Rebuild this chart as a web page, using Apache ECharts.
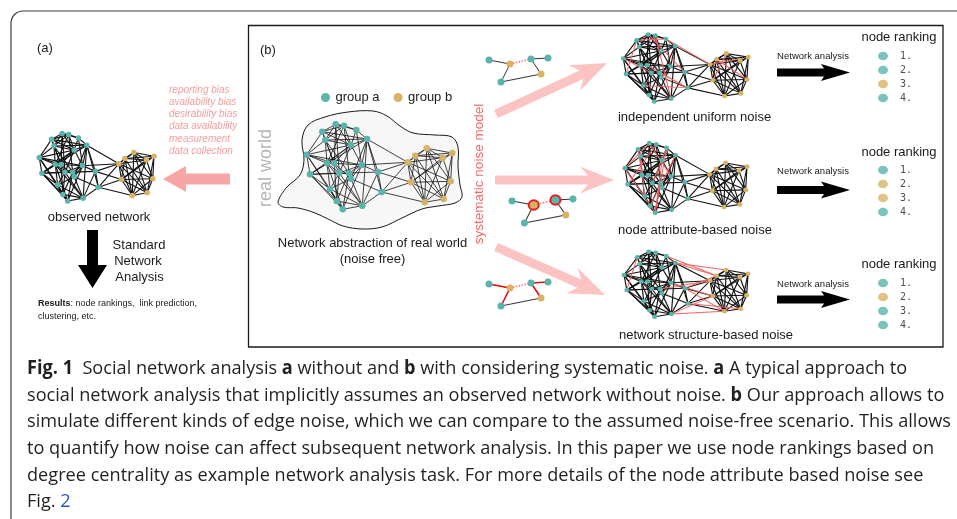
<!DOCTYPE html>
<html>
<head>
<meta charset="utf-8">
<script src="https://cdn.jsdelivr.net/npm/echarts@6/dist/echarts.min.js"></script>
<style>
  html, body { margin: 0; padding: 0; background: #fff; }
  #fig { width: 957px; height: 519px; }
</style>
</head>
<body>
<div id="fig"></div>
<script>
const TEAL = '#5ab4ac';
const GOLD = '#d8b365';
const SANS = 'Liberation Sans';

// ---- network layout (layout units); group a = indices 0..20, group b = 21..29
const groupANodes = [
  [22.3, 11.7], [35.7, 4.3], [44, 5.7], [56.3, 10], [25.3, 20], [67, 19], [51, 25],
  [6.7, 34.7], [27, 43.3], [34.3, 43.3], [61.7, 45], [10, 54.3], [39.3, 53], [49, 53],
  [51, 58.7], [78, 52], [30, 69], [36.7, 81], [81.7, 72], [42.7, 89.3], [62.3, 85.7]
];
const groupBNodes = [
  [107.7, 42.3], [115.3, 35.7], [126.7, 28.3], [142.7, 37.7], [152.3, 33],
  [111, 62.3], [150.7, 61.3], [124.7, 82.3], [143.7, 79]
];
const networkEdges = [
  [0,1],[0,2],[0,4],[0,6],[0,7],[0,9],[0,5],
  [1,2],[1,4],[1,6],[1,9],[1,3],[1,12],
  [2,3],[2,6],[2,4],[2,8],[2,13],
  [3,5],[3,6],[3,10],
  [4,6],[4,7],[4,8],[4,9],[4,13],[4,5],
  [5,6],[5,10],[5,15],[5,18],[5,20],[5,11],[5,14],[5,21],
  [6,8],[6,9],[6,10],[6,12],[6,11],[6,7],
  [7,8],[7,11],[7,9],[7,16],[7,10],[7,17],
  [8,11],[8,12],[8,9],[8,16],[8,19],[8,20],
  [9,12],[9,14],[9,17],[9,10],
  [10,12],[10,13],[10,15],[10,14],[10,19],[10,21],
  [11,12],[11,16],[11,17],[11,19],[11,13],
  [12,13],[12,16],[12,17],[12,20],
  [13,14],[13,17],[13,15],[13,19],
  [14,20],[14,16],[14,18],
  [15,18],[15,21],[15,26],[15,20],
  [16,17],[16,19],[16,20],
  [17,19],[17,20],
  [18,20],[18,26],[18,21],[18,28],
  [19,20],
  [21,22],[21,23],[21,24],[21,26],[21,27],[21,28],[21,29],
  [22,23],[22,24],[22,25],[22,26],[22,28],[22,29],
  [23,24],[23,25],[23,27],[23,28],[23,29],
  [24,25],[24,26],[24,28],[24,27],
  [25,27],[25,29],[25,26],
  [26,28],[26,29],[26,27],
  [27,28],[27,29],
  [28,29]
];
// edges added by each noise model
const uniformNoiseEdges   = [[0,3],[0,11],[1,15],[3,21],[2,20],[7,12],[9,18],[13,18],[16,18],[22,27],[21,25],[23,26]];
const attributeNoiseEdges = [[0,8],[1,7],[3,12],[3,19],[5,17],[6,19],[2,11],[7,19],[4,16],[1,10]];
const structureNoiseEdges = [[5,22],[5,23],[3,22],[15,22],[15,28],[10,26],[13,21],[20,26],[20,28],[18,29],[0,11]];

// small six-node example for each noise model: [x, y, group]
const motifNodes = [[0,2,0],[21,6,1],[42,1,0],[59,0,0],[52,16,1],[12,24,0]];
const motifEdges = [[0,1],[1,2],[2,3],[2,4],[1,5],[5,4]];
const motifUniformKinds   = ['k','dot','k','k','k','k'];
const motifAttributeKinds = ['k','dot','k','k','k','k'];
const motifStructureKinds = ['red','dot','red','red','red','k'];
const motifAttributeRinged = [1, 2];

const groupNames = ['group a', 'group b'];
const biasSources = ['reporting bias','availability bias','desirability bias','data availability','measurement','data collection'];
const rankNames = ['1.', '2.', '3.', '4.'];
const rankingUniform   = [0, 0, 1, 0];
const rankingAttribute = [0, 1, 1, 0];
const rankingStructure = [0, 1, 0, 0];

const captionLines = [
  '{fb|Fig. 1}  Social network analysis {b|a} without and {b|b} with considering systematic noise. {b|a} A typical approach to',
  'social network analysis that implicitly assumes an observed network without noise. {b|b} Our approach allows to',
  'simulate different kinds of edge noise, which we can compare to the assumed noise-free scenario. This allows',
  'to quantify how noise can affect subsequent network analysis. In this paper we use node rankings based on',
  'degree centrality as example network analysis task. For more details of the node attribute based noise see',
  'Fig. {l|2}'
];

// ---------------------------------------------------------------
const categories = [
  { name: groupNames[0], itemStyle: { color: TEAL } },
  { name: groupNames[1], itemStyle: { color: GOLD } }
];

function networkSeries(box, nodeSize, edgeWidth, noise, noiseWidth) {
  const nodes = groupANodes.map(p => ({ x: p[0], y: p[1], category: 0 }))
    .concat(groupBNodes.map(p => ({ x: p[0], y: p[1], category: 1 })));
  const links = networkEdges.map(e => ({ source: e[0], target: e[1], lineStyle: { color: '#111', width: edgeWidth } }))
    .concat((noise || []).map(e => ({ source: e[0], target: e[1], lineStyle: { color: '#f26464', width: noiseWidth } })));
  return Object.assign({
    type: 'graph', layout: 'none', roam: false, silent: true,
    symbol: 'circle', symbolSize: nodeSize, categories: categories,
    itemStyle: { borderWidth: 0 },
    lineStyle: { opacity: 1, curveness: 0 },
    emphasis: { disabled: true },
    data: nodes, links: links, z: 3
  }, box);
}

function motifSeries(box, kinds, ringed) {
  const nodes = motifNodes.map((p, i) => {
    const n = { x: p[0], y: p[1], category: p[2] };
    if (ringed && ringed.indexOf(i) >= 0) {
      n.symbolSize = 10;
      n.itemStyle = { borderColor: '#e81c1c', borderWidth: 2 };
    }
    return n;
  });
  const styleFor = k => k === 'dot' ? { color: '#ff6a6a', width: 1.5, type: 'dotted' }
                   : k === 'red' ? { color: '#e80000', width: 1.5 }
                   : { color: '#333', width: 1 };
  const links = motifEdges.map((e, i) => ({ source: e[0], target: e[1], lineStyle: styleFor(kinds[i]) }));
  return Object.assign({
    type: 'graph', layout: 'none', roam: false, silent: true,
    symbol: 'circle', symbolSize: 7, categories: categories,
    lineStyle: { opacity: 1 }, emphasis: { disabled: true },
    data: nodes, links: links, z: 3
  }, box);
}

// polygon for a straight block arrow from (x1,y1) to (x2,y2)
function arrowPoints(x1, y1, x2, y2, shaftW, headW, headL, notch) {
  const dx = x2 - x1, dy = y2 - y1, L = Math.hypot(dx, dy);
  const ux = dx / L, uy = dy / L, px = -uy, py = ux;
  const P = (s, t) => [x1 + ux * s + px * t, y1 + uy * s + py * t];
  const hb = L - headL;
  return [P(0, -shaftW / 2), P(hb + notch, -shaftW / 2), P(hb, -headW / 2), P(L, 0),
          P(hb, headW / 2), P(hb + notch, shaftW / 2), P(0, shaftW / 2)];
}
function arrow(pts, color, z) {
  return { type: 'polygon', z: z || 1, silent: true, shape: { points: pts }, style: { fill: color } };
}
function txt(text, x, y, o) {
  o = o || {};
  return {
    type: 'text', silent: true, z: 5, x: x, y: y, rotation: o.rotation || 0,
    style: {
      text: text, x: 0, y: 0, fill: o.fill || '#1a1a1a',
      fontFamily: o.family || SANS, fontSize: o.size || 13,
      fontStyle: o.style || 'normal', fontWeight: o.weight || 'normal',
      align: o.align || 'left', verticalAlign: 'middle', rich: o.rich
    }
  };
}

// ---- caption, scaled horizontally to the column width
const CAP_FONT = 'Open Sans';
const CAP_SIZE = 19;
const measureCtx = document.createElement('canvas').getContext('2d');
measureCtx.font = CAP_SIZE + 'px "' + CAP_FONT + '"';
const capScale = 924 / measureCtx.measureText(captionLines[2]).width;
const capRich = {
  fb: { fontFamily: CAP_FONT, fontSize: CAP_SIZE, fontWeight: 'bold', fill: '#231f20' },
  b:  { fontFamily: CAP_FONT, fontSize: CAP_SIZE, fontWeight: 'bold', fill: '#231f20' },
  l:  { fontFamily: CAP_FONT, fontSize: CAP_SIZE, fill: '#2c5cb8' }
};
const captionEls = captionLines.map((line, i) => {
  const el = txt(line, 27, 368.5 + i * 26.67, { family: CAP_FONT, size: CAP_SIZE, fill: '#231f20', rich: capRich });
  el.scaleX = capScale;
  return el;
});

// ---- blob outline around the noise-free network
const blobOutline = [
  [278,202],[287,187],[300,175],[304,160],[302,140],[308,125],[325,117],[348,112],[373,111],
  [387,116],[400,126],[413,133],[435,135],[452,137],[458,147],[458,167],[460,185],[462,197],
  [455,203],[438,206],[422,209],[402,218],[382,227],[362,229],[343,226],[328,219],[315,213],
  [298,208],[283,207]
];

const graphics = [
  // frames
  { type: 'rect', silent: true, z: 0, shape: { x: 11, y: 11, width: 1000, height: 600, r: 12 },
    style: { fill: 'none', stroke: '#3c3c3c', lineWidth: 1.2 } },
  { type: 'rect', silent: true, z: 0, shape: { x: 248.5, y: 25.5, width: 694.5, height: 321.5 },
    style: { fill: 'none', stroke: '#1a1a1a', lineWidth: 1.3 } },
  { type: 'polygon', silent: true, z: 0, shape: { points: blobOutline, smooth: 0.35 },
    style: { fill: '#f7f7f7', stroke: '#1a1a1a', lineWidth: 1 } },

  // panel (a)
  txt('(a)', 37, 48, { size: 13 }),
  txt('(b)', 260, 50, { size: 13 }),
  arrow(arrowPoints(230, 179, 163, 179, 11, 26, 23, 0), '#f9a5a5'),
  txt('observed network', 99, 217, { align: 'center', size: 13 }),
  arrow(arrowPoints(92.5, 230, 92.5, 288, 11, 29, 23, 0), '#000'),
  txt('Standard', 139, 245.5, { align: 'center', size: 13 }),
  txt('Network', 138, 261.5, { align: 'center', size: 13 }),
  txt('Analysis', 139.5, 277.5, { align: 'center', size: 13 }),
  txt('{rb|Results}: node rankings,  link prediction,', 38, 304, { size: 9,
      rich: { rb: { fontFamily: SANS, fontSize: 9, fontWeight: 'bold', fill: '#1a1a1a' } } }),
  txt('clustering, etc.', 38, 317, { size: 9 }),

  // panel (b)
  txt('real world', 266, 168, { align: 'center', size: 18, fill: '#b5b5b5', rotation: Math.PI / 2 }),
  txt('Network abstraction of real world', 372.5, 243, { align: 'center', size: 13 }),
  txt('(noise free)', 372.5, 259, { align: 'center', size: 13 }),
  txt('systematic noise model', 479, 174, { align: 'center', size: 13.5, fill: '#f26a6a', rotation: Math.PI / 2 }),

  arrow(arrowPoints(496, 114, 607, 63, 9, 28, 36, 8), '#fcc3c3'),
  arrow(arrowPoints(495, 180, 614, 180, 9, 27, 34, 8), '#fcc3c3'),
  arrow(arrowPoints(496, 247, 605, 295, 9, 28, 36, 8), '#fcc3c3'),

  txt('independent uniform noise', 694.5, 117, { align: 'center', size: 13 }),
  txt('node attribute-based noise', 695, 230, { align: 'center', size: 13 }),
  txt('network structure-based noise', 706, 335, { align: 'center', size: 13 }),

  txt('Network analysis', 813, 56.5, { align: 'center', size: 9.5 }),
  txt('Network analysis', 813, 171, { align: 'center', size: 9.5 }),
  txt('Network analysis', 813, 284, { align: 'center', size: 9.5 }),
  arrow(arrowPoints(777, 72.5, 850, 72.5, 8, 17, 29, 3), '#000'),
  arrow(arrowPoints(777, 190, 850, 190, 8, 17, 29, 3), '#000'),
  arrow(arrowPoints(777, 299.5, 850, 299.5, 8, 17, 29, 3), '#000'),

  txt('node ranking', 899, 37, { align: 'center', size: 13 }),
  txt('node ranking', 899, 152, { align: 'center', size: 13 }),
  txt('node ranking', 899, 264.5, { align: 'center', size: 13 })
].concat(
  biasSources.map((s, i) => txt(s, 169, 90 + i * 12.2, { size: 10, style: 'italic', fill: '#f59d9d' })),
  captionEls
);

// ---- ranking columns
const rankingTops = [49, 163, 276];
const rankings = [rankingUniform, rankingAttribute, rankingStructure];
const grids = rankingTops.map(t => ({ left: 878, top: t, width: 10, height: 56 }));
const xAxes = rankingTops.map((t, i) => ({ type: 'value', gridIndex: i, min: -1, max: 1, show: false }));
const yAxes = rankingTops.map((t, i) => ({ type: 'category', gridIndex: i, data: rankNames, inverse: true, show: false }));
const rankSeries = rankings.map((r, gi) => ({
  type: 'scatter', xAxisIndex: gi, yAxisIndex: gi, silent: true, symbol: 'circle', symbolSize: [10, 8.5],
  data: r.map((g, i) => ({ name: rankNames[i], value: [0, i], itemStyle: { color: g ? GOLD : TEAL } })),
  label: { show: true, position: 'right', distance: 12, formatter: '{b}',
           fontFamily: 'DejaVu Sans Mono', fontSize: 10, color: '#222' },
  z: 3
}));

const chart = echarts.init(document.getElementById('fig'), null, { renderer: 'canvas' });
chart.setOption({
  animation: false,
  backgroundColor: '#fff',
  textStyle: { fontFamily: SANS },
  legend: {
    data: groupNames, left: 316, top: 86, itemWidth: 10, itemHeight: 9, icon: 'circle',
    itemGap: 14, selectedMode: false, textStyle: { fontSize: 13, color: '#1a1a1a', fontFamily: SANS }
  },
  grid: grids, xAxis: xAxes, yAxis: yAxes,
  graphic: { elements: graphics },
  series: [
    Object.assign(networkSeries({ left: 39.3, top: 133.5, width: 114.7, height: 67.5 }, 5.5, 1.1), { name: 'observed' }),
    networkSeries({ left: 306.7, top: 124.3, width: 145.6, height: 85 }, 6.5, 0.8),
    networkSeries({ left: 623.3, top: 34.5, width: 125, height: 67 }, 5, 1.1, uniformNoiseEdges, 1),
    networkSeries({ left: 625, top: 143.3, width: 122, height: 69.5 }, 5, 1.1, attributeNoiseEdges, 1),
    networkSeries({ left: 624, top: 251.7, width: 124, height: 65 }, 5, 1.1, structureNoiseEdges, 1),
    motifSeries({ left: 489, top: 58, width: 59, height: 24 }, motifUniformKinds),
    motifSeries({ left: 512, top: 199, width: 61, height: 24 }, motifAttributeKinds, motifAttributeRinged),
    motifSeries({ left: 489, top: 282, width: 59, height: 24 }, motifStructureKinds)
  ].concat(rankSeries)
});
</script>
</body>
</html>
